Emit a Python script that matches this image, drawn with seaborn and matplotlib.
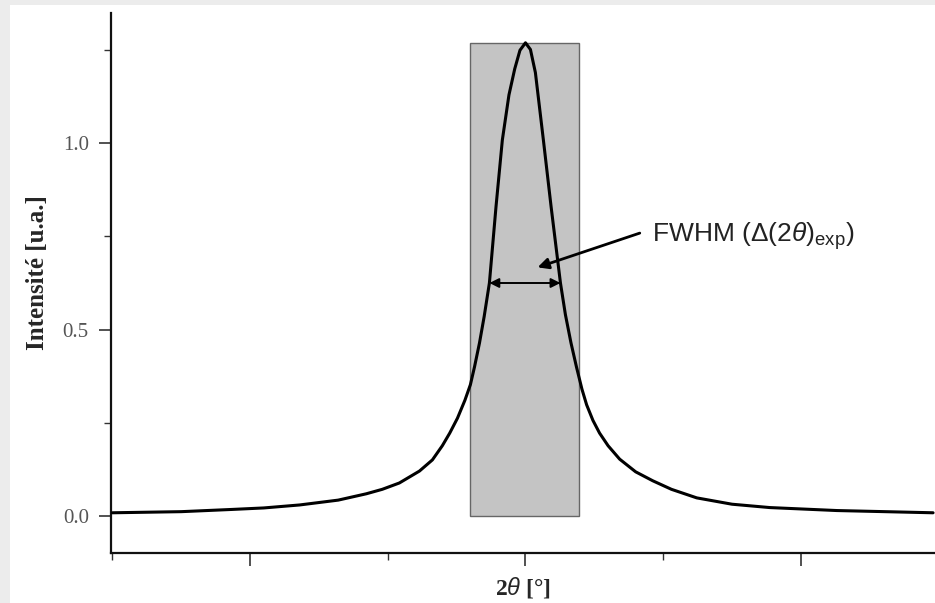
import matplotlib
matplotlib.use("Agg")
import matplotlib.pyplot as plt
from matplotlib.patches import Rectangle
from matplotlib.ticker import MultipleLocator, NullFormatter
import seaborn as sns

# peak profile (2theta in arbitrary units, peak centred at 0)
two_theta = [-1.50, -1.25, -1.065, -0.95, -0.82, -0.68, -0.578, -0.52, -0.458,
             -0.385, -0.338, -0.302, -0.275, -0.247, -0.22, -0.20, -0.185, -0.167,
             -0.15, -0.131, -0.107, -0.084, -0.06, -0.039, -0.02, 0.0, 0.018,
             0.036, 0.065, 0.093, 0.127, 0.145, 0.165, 0.185, 0.205, 0.222, 0.245,
             0.269, 0.30, 0.342, 0.40, 0.462, 0.53, 0.622, 0.75, 0.887, 1.131, 1.48]
intensity = [0.008, 0.011, 0.017, 0.021, 0.029, 0.042, 0.059, 0.071, 0.088,
             0.120, 0.150, 0.188, 0.222, 0.262, 0.31, 0.352, 0.40, 0.464,
             0.535, 0.625, 0.830, 1.009, 1.13, 1.2, 1.25, 1.27, 1.252,
             1.19, 1.009, 0.830, 0.625, 0.54, 0.465, 0.400, 0.340, 0.298, 0.256,
             0.222, 0.188, 0.152, 0.118, 0.094, 0.071, 0.048, 0.031, 0.022, 0.014, 0.008]

# shaded window around the peak and the FWHM marker
window = [-0.20, 0.196]
window_top = 1.27
fwhm_left, fwhm_right, half_max = -0.131, 0.127, 0.625

y_ticks = [0.0, 0.5, 1.0]
y_labels = ["0.0", "0.5", "1.0"]

sns.set_style("ticks")
plt.rcParams["mathtext.fontset"] = "custom"
plt.rcParams["mathtext.rm"] = "Liberation Sans"
plt.rcParams["mathtext.it"] = "Liberation Sans:italic"

fig = plt.figure(figsize=(9.35, 6.03), dpi=100, facecolor="#ececec")
bg = Rectangle((10 / 935, 0), 1, 1 - 5 / 603, transform=fig.transFigure,
               facecolor="white", edgecolor="none", zorder=-10)
fig.add_artist(bg)
ax = fig.add_axes([111 / 935, 50 / 603, 1 - 111 / 935, 540 / 603])
ax.set_facecolor("none")

ax.add_patch(Rectangle((window[0], 0), window[1] - window[0], window_top,
                       facecolor="#c4c4c4", edgecolor="#666666", lw=1.0, zorder=1))

sns.lineplot(x=two_theta, y=intensity, color="black", lw=2.2, ax=ax, zorder=3)

ax.annotate("", xy=(fwhm_left, half_max), xytext=(fwhm_right, half_max),
            arrowprops=dict(arrowstyle="<|-|>", color="black", lw=1.4,
                            mutation_scale=14, shrinkA=0, shrinkB=0), zorder=4)
ax.annotate("", xy=(0.044, 0.667), xytext=(0.415, 0.759),
            arrowprops=dict(arrowstyle="-|>", color="black", lw=2.0,
                            mutation_scale=16, shrinkA=0, shrinkB=0), zorder=4)
ax.text(0.46, 0.752, r"FWHM ($\Delta$(2$\theta$)$_{\mathrm{exp}}$)",
        family="Liberation Sans", fontsize=19, va="center", ha="left", color="#222222")

ax.set_xlim(-1.505, 1.487)
ax.set_ylim(-0.1, 1.35)

ax.set_yticks(y_ticks)
ax.set_yticklabels(y_labels, family="Liberation Serif", fontsize=15, color="#555555")
ax.yaxis.set_minor_locator(MultipleLocator(0.25))
ax.xaxis.set_major_locator(MultipleLocator(1.0))
ax.xaxis.set_minor_locator(MultipleLocator(0.5))
ax.xaxis.set_major_formatter(NullFormatter())
ax.tick_params(which="major", length=9, width=1.2, color="#333333", pad=7)
ax.tick_params(which="minor", length=5, width=1.0, color="#333333")

for side in ["top", "right"]:
    ax.spines[side].set_visible(False)
for side in ["left", "bottom"]:
    ax.spines[side].set_linewidth(1.6)
    ax.spines[side].set_color("#111111")

ax.set_ylabel("Intensité [u.a.]", family="Liberation Serif", fontweight="bold",
              fontsize=18, labelpad=7)
ax.yaxis.set_label_coords(-0.075, 0.52)
ax.set_xlabel(r"2$\theta$ [°]", family="Liberation Serif", fontweight="bold",
              fontsize=17, labelpad=0)

fig.savefig("out.png", dpi=100, facecolor=fig.get_facecolor())
